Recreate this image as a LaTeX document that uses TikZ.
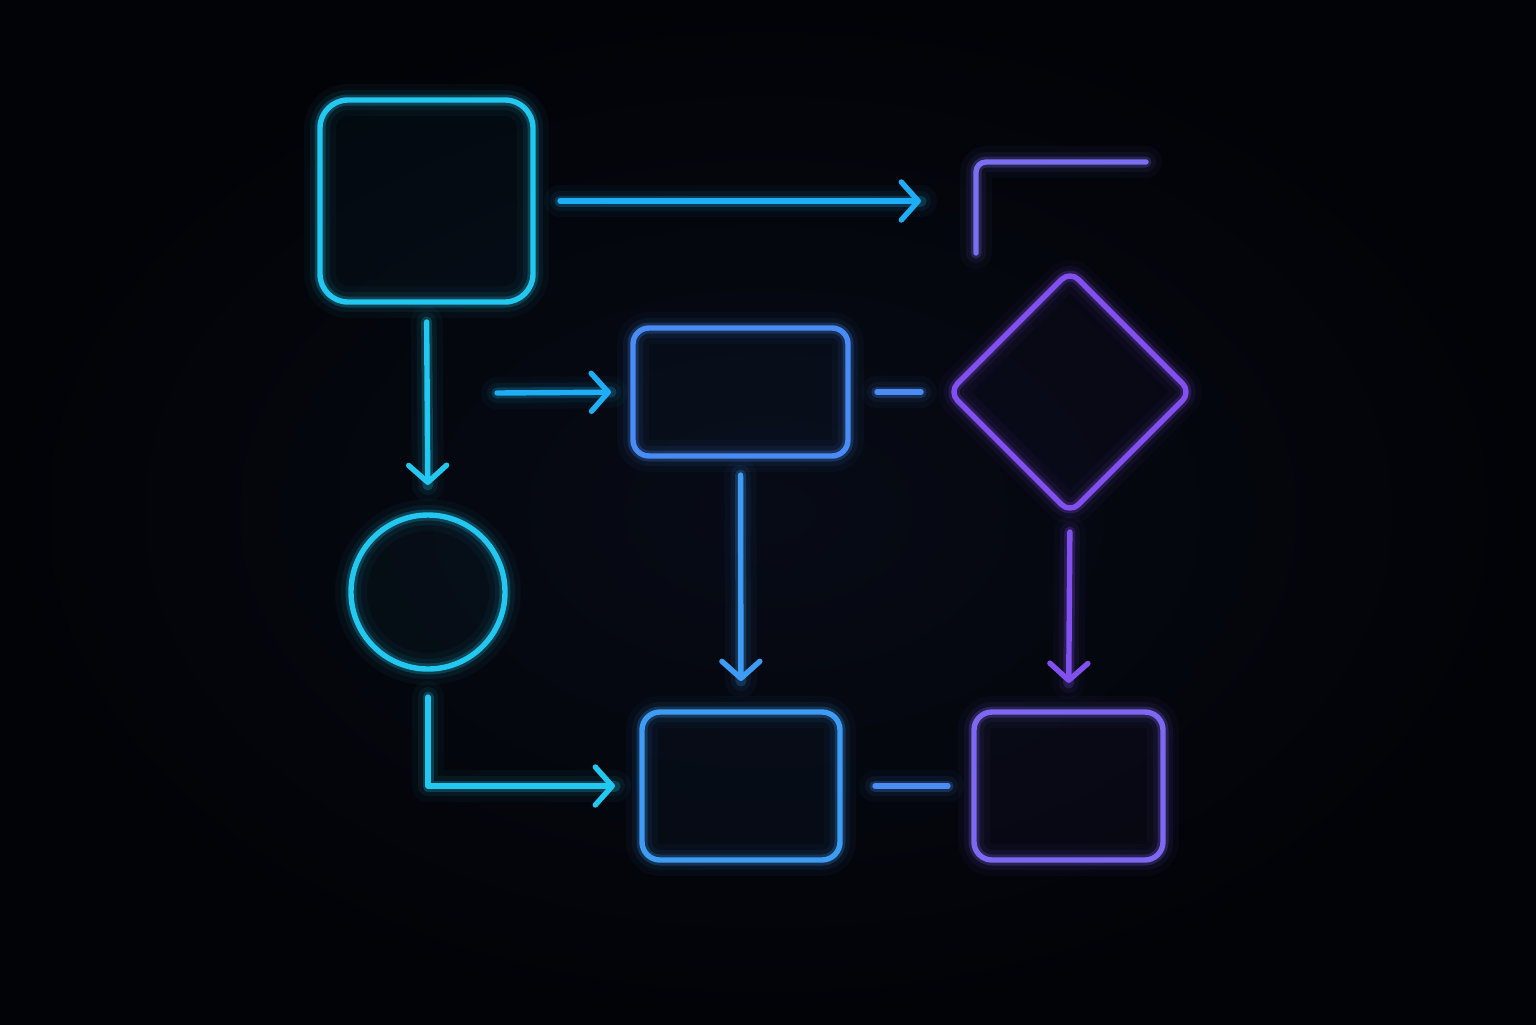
\documentclass[tikz,border=0pt]{standalone}
\usetikzlibrary{arrows.meta,shapes.geometric}
\definecolor{bgin}{HTML}{070B16}
\definecolor{bgout}{HTML}{020307}
\definecolor{ncyan}{HTML}{22C8F0}
\definecolor{ncyanb}{HTML}{1EAEF5}
\definecolor{nblue}{HTML}{4A8CF5}
\definecolor{nblueb}{HTML}{3E9CF5}
\definecolor{nviolet}{HTML}{7E68F2}
\definecolor{npurple}{HTML}{8250EE}
\definecolor{ncorner}{HTML}{7A6EF2}
\tikzset{
  glowline/.style n args={3}{preaction={draw=#1, line width=#2, draw opacity=#3, line cap=round, line join=round, arrows=-}},
  neon/.style={draw=#1, line width=2.7pt, line cap=round, line join=round,
    glowline={#1}{16pt}{0.04},
    glowline={#1}{10pt}{0.07},
    glowline={#1}{5.5pt}{0.22}},
  neonbox/.style={neon=#1, fill=#1, fill opacity=0.035, text opacity=1, inner sep=0pt, outer sep=0pt},
  tip/.style={-{Straight Barb[length=8.5pt,width=19pt,round]}},
}
\begin{document}
\begin{tikzpicture}[x=0.5pt,y=-0.5pt]
\shade[inner color=bgin, outer color=bgout] (0,0) rectangle (1536,1024);
\useasboundingbox (0,0) rectangle (1536,1024);

% nodes
\node[neonbox=ncyan, rectangle, rounded corners=14pt, minimum width=106.5pt, minimum height=101pt] (A) at (426.5,201) {};
\node[neonbox=nblue, rectangle, rounded corners=8pt, minimum width=107.5pt, minimum height=64pt] (B) at (740.5,392) {};
\node[neonbox=npurple, diamond, aspect=1, rounded corners=6pt, minimum width=121pt, minimum height=121pt] (D) at (1070,392) {};
\node[neonbox=ncyan, circle, minimum size=77pt] (C) at (428,592) {};
\node[neonbox=nblueb, rectangle, rounded corners=9pt, minimum width=99pt, minimum height=74pt] (E) at (741,786) {};
\node[neonbox=nviolet, rectangle, rounded corners=9pt, minimum width=94.5pt, minimum height=74pt] (F) at (1068.5,786) {};

% partial corner shape
\coordinate (g1) at (976,253);
\coordinate (g2) at (976,162);
\coordinate (g3) at (1146,162);
\draw[neon=ncorner, rounded corners=5pt] (g1) -- (g2) -- (g3);

% free ends
\coordinate (a1) at (921,201);
\coordinate (b0) at (497,393);

% connectors
\draw[neon=ncyanb, tip, shorten <=13.5pt] (A.east) -- (a1);
\draw[neon=ncyan, tip, shorten <=10pt, shorten >=15pt] (A.south) -- (C.north);
\draw[neon=ncyanb, tip, shorten >=11pt] (b0) -- (B.west);
\draw[neon=nblue, shorten <=14.5pt, shorten >=14pt] (B.east) -- (D.west);
\draw[neon=nblueb, tip, shorten <=9.5pt, shorten >=15.5pt] (B.south) -- (E.north);
\draw[neon=npurple, tip, shorten <=9.5pt, shorten >=14.5pt] (D.south) -- (F.north);
\draw[neon=ncyan, tip, shorten <=14pt, shorten >=13.5pt] (C.south) |- (E.west);
\draw[neon=nblue, shorten <=17.5pt, shorten >=13pt] (E.east) -- (F.west);
\end{tikzpicture}
\end{document}
